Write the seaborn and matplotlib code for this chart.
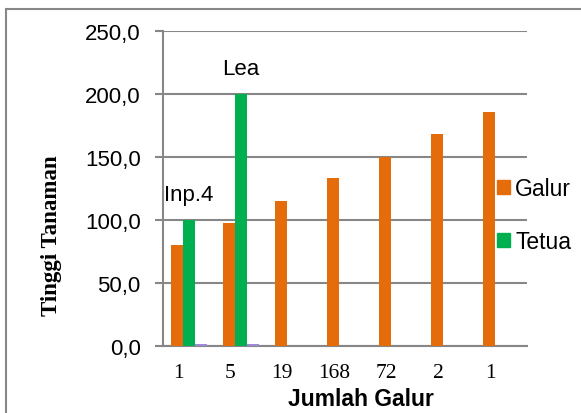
import pandas as pd
import matplotlib
matplotlib.use('Agg')
import matplotlib.pyplot as plt
import matplotlib.patches as mpatches
import seaborn as sns

# dados
jumlah_galur = ['1', '5', '19', '168', '72', '2', '1']
galur = [80.0, 98.0, 115.0, 133.0, 150.0, 168.0, 186.0]
tetua = [100.0, 200.0, None, None, None, None, None]
lain = [1.5, 1.5, None, None, None, None, None]
label_tetua = ['Inp.4', 'Lea', None, None, None, None, None]

cor_galur = '#E46C0A'
cor_tetua = '#00B050'
cor_lain = '#A08AD8'
cinza = '#878787'

pos = list(range(len(jumlah_galur)))
df = pd.concat([
    pd.DataFrame({'pos': pos, 'Tinggi': galur, 'Seri': 'Galur'}),
    pd.DataFrame({'pos': pos, 'Tinggi': tetua, 'Seri': 'Tetua'}),
    pd.DataFrame({'pos': pos, 'Tinggi': lain, 'Seri': 'Lain'}),
], ignore_index=True)
df['Tinggi'] = df['Tinggi'].astype(float)

sns.set_style('white')
plt.rcParams['font.family'] = ['Liberation Sans', 'DejaVu Sans']
plt.rcParams['text.color'] = 'black'
plt.rcParams['xtick.color'] = 'black'
plt.rcParams['ytick.color'] = 'black'
plt.rcParams['axes.labelcolor'] = 'black'

fig = plt.figure(figsize=(5.81, 4.14), dpi=100)
ax = fig.add_axes([163 / 581, 1 - 347 / 414, 364 / 581, 315 / 414])

sns.barplot(data=df, x='pos', y='Tinggi', hue='Seri',
            hue_order=['Galur', 'Tetua', 'Lain'],
            palette=[cor_galur, cor_tetua, cor_lain],
            width=0.675, gap=0, saturation=1, linewidth=0,
            legend=False, ax=ax, zorder=3)

ax.set_ylim(0, 250)
ax.set_yticks([0, 50, 100, 150, 200, 250])
ax.set_yticklabels([f'{v:.1f}'.replace('.', ',') for v in [0, 50, 100, 150, 200, 250]],
                   fontsize=16)
ax.grid(axis='y', color=cinza, linewidth=1.5, zorder=0)
ax.set_axisbelow(True)
ax.tick_params(axis='y', length=6, width=1.5, color=cinza, labelcolor='black',
               pad=10, left=True)

# rotulos do eixo x ficam um pouco a esquerda do centro do grupo
ax.set_xticks([p - 0.21 for p in pos])
ax.set_xticklabels(jumlah_galur, fontsize=15.5, family=['Liberation Serif'])
ax.tick_params(axis='x', length=0, pad=12, labelcolor='black')
ax.set_xlim(-0.5, len(pos) - 0.5)

for s in ['top', 'right']:
    ax.spines[s].set_visible(False)
for s in ['left', 'bottom']:
    ax.spines[s].set_color(cinza)
    ax.spines[s].set_linewidth(1.5)
    ax.spines[s].set_zorder(2)

for p, v, t in zip(pos, tetua, label_tetua):
    if t:
        ax.text(p, v + 20, t, ha='center', va='center', fontsize=16)

ax.set_xlabel('Jumlah Galur', fontsize=16.5, fontweight='bold')
ax.xaxis.set_label_coords(0.544, -0.13)
ax.set_ylabel('Tinggi Tanaman', fontsize=16.5, fontweight='bold',
              family=['Liberation Serif'])
ax.yaxis.set_label_coords(-0.305, 0.352)
ax.yaxis.label.set_va('center')

handles = [mpatches.Patch(color=cor_galur, label='Galur'),
           mpatches.Patch(color=cor_tetua, label='Tetua')]
fig.legend(handles=handles, loc='center left',
           bbox_to_anchor=(497 / 581, 1 - 216 / 414), frameon=False,
           fontsize=16.5, handlelength=0.55, handleheight=0.6,
           handletextpad=0.25, labelspacing=1.3, borderpad=0,
           borderaxespad=0)

# moldura externa (so esquerda e topo aparecem)
fig.add_artist(mpatches.Rectangle((6 / 581, -0.5), 2, 1.5 - 10 / 414,
                                  transform=fig.transFigure, fill=False,
                                  edgecolor=cinza, linewidth=1.5))

fig.savefig('out.png', dpi=100)
